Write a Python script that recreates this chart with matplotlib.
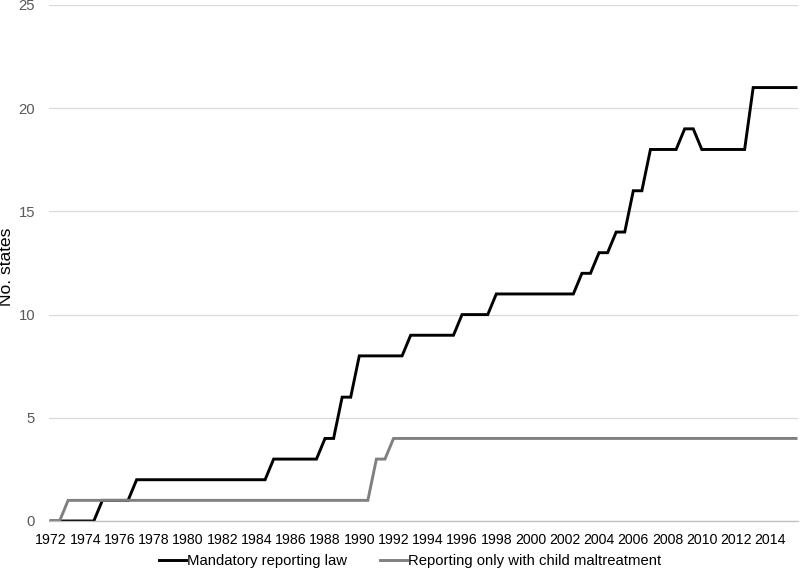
import numpy as np
import matplotlib
matplotlib.use('Agg')
import matplotlib.pyplot as plt

plt.rcParams['font.family'] = ['Liberation Sans', 'DejaVu Sans']

# half-year periods, 1972 to 2015.5
periods = np.arange(1972, 2016, 0.5)

mandatory = [0, 0, 0, 0, 0, 0,            # 1972-1974.5
             1, 1, 1, 1,                  # 1975-1976.5
             2, 2, 2, 2, 2, 2, 2, 2,
             2, 2, 2, 2, 2, 2, 2, 2,      # 1977-1984.5
             3, 3, 3, 3, 3, 3,            # 1985-1987.5
             4, 4, 6, 6,                  # 1988-1989.5
             8, 8, 8, 8, 8, 8,            # 1990-1992.5
             9, 9, 9, 9, 9, 9,            # 1993-1995.5
             10, 10, 10, 10,              # 1996-1997.5
             11, 11, 11, 11, 11, 11, 11, 11, 11, 11,   # 1998-2002.5
             12, 12, 13, 13, 14, 14, 16, 16,           # 2003-2006.5
             18, 18, 18, 18, 19, 19,                   # 2007-2009.5
             18, 18, 18, 18, 18, 18,                   # 2010-2012.5
             21, 21, 21, 21, 21, 21]                   # 2013-2015.5

child_only = [0, 0,                                   # 1972-1972.5
              1, 1, 1, 1, 1, 1, 1, 1, 1, 1, 1, 1,
              1, 1, 1, 1, 1, 1, 1, 1, 1, 1, 1, 1,
              1, 1, 1, 1, 1, 1, 1, 1, 1, 1, 1, 1,     # 1973-1990.5
              3, 3,                                   # 1991-1991.5
              4, 4, 4, 4, 4, 4, 4, 4, 4, 4, 4, 4,
              4, 4, 4, 4, 4, 4, 4, 4, 4, 4, 4, 4,
              4, 4, 4, 4, 4, 4, 4, 4, 4, 4, 4, 4,
              4, 4, 4, 4, 4, 4, 4, 4, 4, 4, 4, 4]     # 1992-2015.5

year_ticks = np.arange(1972, 2015, 2)
y_ticks = [0, 5, 10, 15, 20, 25]

fig = plt.figure(figsize=(8, 5.74), dpi=100)
ax = fig.add_axes([49/800, 1-521/574, 749/800, 516/574])

ax.plot(periods, mandatory, color='black', lw=2.1, label='Mandatory reporting law',
        solid_joinstyle='miter')
ax.plot(periods, child_only, color='#808080', lw=2.1,
        label='Reporting only with child maltreatment', solid_joinstyle='miter')

ax.set_xlim(1972 - 2/17.1, 2015.5 + 2/17.1)
ax.set_ylim(0, 25)
ax.set_xticks(year_ticks)
ax.set_xticklabels([str(y) for y in year_ticks])
ax.set_yticks(y_ticks)

ax.grid(axis='y', color='#d9d9d9', lw=0.9)
ax.set_axisbelow(True)
for s in ['top', 'right', 'left']:
    ax.spines[s].set_visible(False)
ax.spines['bottom'].set_color('#bfbfbf')
ax.spines['bottom'].set_linewidth(0.9)

ax.tick_params(axis='both', length=0)
ax.tick_params(axis='x', pad=9, colors='black', labelsize=10.2)
ax.tick_params(axis='y', pad=10, labelcolor='#595959', labelsize=10.7)

# y label sits near the left edge of the figure
fig.text(7/800, 1-267/574, 'No. states', rotation=90, fontsize=12.5,
         ha='center', va='center', color='black')

fig.legend(loc='center', bbox_to_anchor=(0.513, 1-561/574), ncol=2, frameon=False,
           fontsize=10.7, handlelength=1.8, handletextpad=0.1, columnspacing=2.2)

plt.savefig('out.png', dpi=100)
